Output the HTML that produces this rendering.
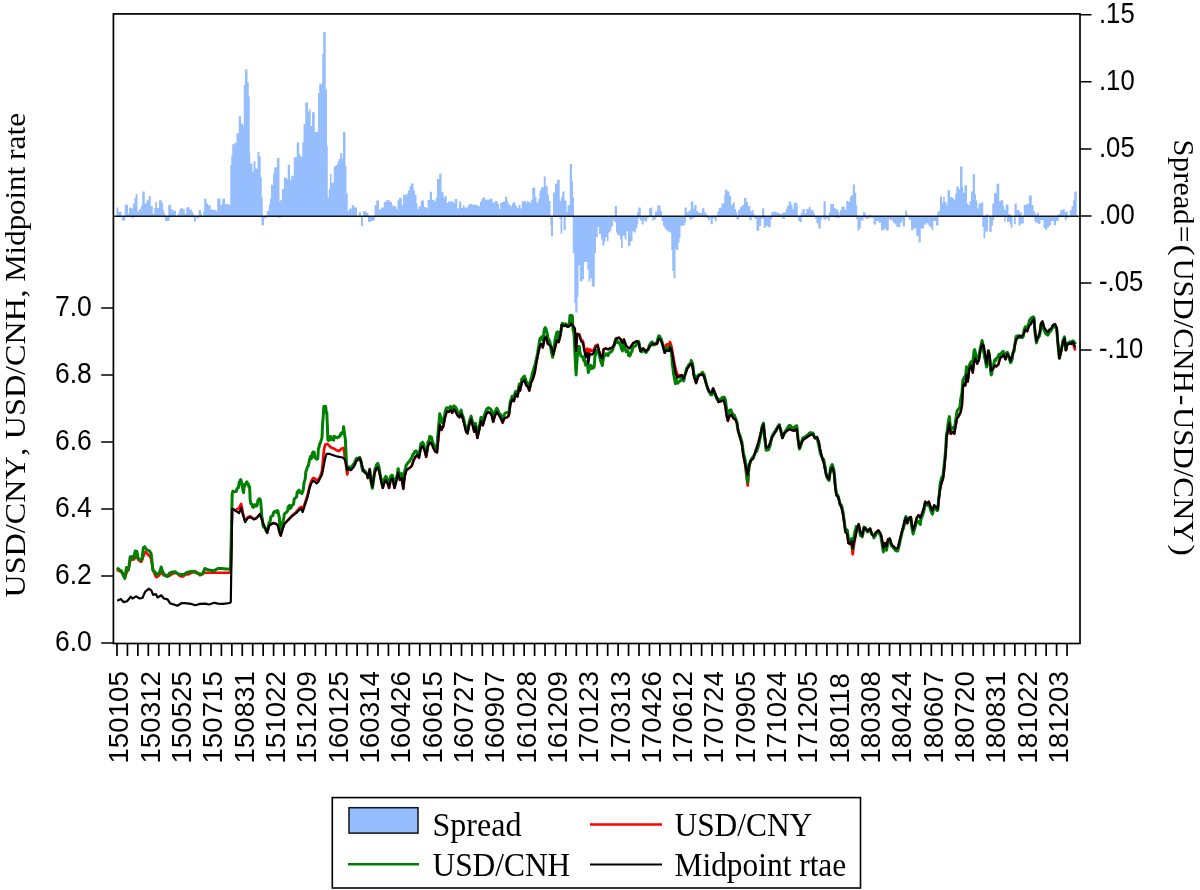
<!DOCTYPE html>
<html><head><meta charset="utf-8"><title>USD/CNY, USD/CNH, Midpoint rate</title>
<style>html,body{margin:0;padding:0;background:#fff}svg{display:block}</style></head>
<body>
<svg width="1200" height="890" viewBox="0 0 1200 890">
<rect width="1200" height="890" fill="#fff"/>
<path d="M116.50,216.2V207.4H118.25V211.8H121.50V216.2ZM124.75,216.2V204.7H128.00V213.4H129.00V207.4H131.25V208.5H133.00V203.6H134.50V198.1H135.50V194.3H137.50V211.2H139.00V209.0H141.00V205.8H142.25V191.6H144.75V203.6H146.50V200.3H148.75V196.0H150.75V206.3H152.75V213.4H154.25V207.9H155.25V202.0H157.00V207.9H159.00V200.3H161.75V203.0H163.00V210.1H164.25V213.4H165.25V216.2ZM168.25,216.2V204.9H171.00V209.6H173.25V210.7H176.00V216.2ZM177.50,216.2V213.4H179.25V209.6H180.75V207.9H182.50V209.0H184.75V213.4H186.25V207.9H187.25V206.9H189.50V209.6H191.75V211.8H193.25V213.9H194.00V216.2ZM198.75,216.2V210.1H201.00V213.4H202.00V216.2ZM203.25,216.2V211.2H204.25V198.7H206.50V203.6H208.00V205.2H210.75V209.6H213.50V210.1H216.25V211.2H217.25V198.4H220.50V204.7H222.25V198.7H225.00V204.1H228.00V204.4H230.25V165.1H231.25V155.3H232.25V144.2H234.50V142.8H236.50V133.3H238.75V116.3H241.00V123.7H243.00V125.4H243.75V84.9H245.00V69.5H247.50V82.2H248.75V96.4H249.75V153.1H250.25V163.5H252.50V171.7H253.50V161.3H255.50V168.4H257.50V152.0H259.50V156.4H260.75V176.9H261.75V197.3H262.75V216.2ZM266.75,216.2V210.9H268.75V204.4H270.00V198.4H271.00V184.7H273.00V173.8H274.25V167.3H277.00V158.0H279.50V202.2H280.25V200.0H282.00V189.1H284.00V177.4H286.25V178.7H287.75V164.8H290.00V180.4H291.25V175.8H293.75V157.3H296.75V142.5H299.25V154.2H300.50V156.4H302.25V142.2H303.50V123.9H305.25V102.6H308.00V111.6H309.25V109.1H310.75V125.9H312.00V112.2H314.75V131.9H318.00V93.1H319.25V83.8H322.25V53.9H323.25V32.1H325.75V89.3H327.00V146.1H327.75V197.8H328.75V189.1H330.00V173.8H331.50V182.8H333.75V166.2H336.00V165.1H337.50V161.9H338.50V159.1H340.25V153.1H342.25V158.6H343.00V131.9H345.50V166.2H346.50V193.5H347.75V210.9H349.00V208.7H350.00V208.5H351.75V205.2H354.25V207.4H357.00V216.2ZM358.75,216.2V212.3H361.00V216.2ZM363.00,216.2V211.2H366.25V212.8H368.50V216.2ZM374.50,216.2V205.2H376.25V200.5H379.00V209.6H381.00V207.4H383.75V202.0H386.00V200.3H389.75V202.0H392.00V205.2H393.50V206.3H396.25V209.6H397.50V200.3H399.00V198.1H401.75V204.7H403.00V195.1H405.50V194.3H407.75V190.5H409.50V186.2H411.00V183.4H413.50V190.5H415.00V194.9H416.50V203.6H417.50V209.0H418.75V206.3H420.75V200.5H424.00V206.9H426.25V208.5H427.50V200.1H429.75V191.8H432.00V199.8H434.50V201.4H435.75V197.6H437.00V179.1H439.25V173.6H441.50V191.8H443.50V197.6H444.75V196.0H446.75V203.0H448.00V201.4H450.75V201.2H453.50V203.0H454.75V199.0H457.25V208.5H459.00V201.6H461.25V207.9H462.75V205.2H464.50V207.4H467.75V205.8H469.25V204.1H472.50V204.7H477.75V206.3H480.00V202.0H481.25V199.0H482.75V197.3H485.00V199.8H487.00V199.4H490.25V198.4H492.50V202.5H494.50V201.2H497.75V204.1H499.00V209.0H500.25V203.0H501.75V202.0H503.50V201.2H505.00V196.8H507.25V201.4H508.50V204.5H510.50V206.3H512.00V203.6H513.25V202.3H515.50V205.8H517.00V207.9H518.50V204.9H520.50V208.5H521.75V201.4H523.50V200.9H525.75V202.5H527.00V201.2H529.00V202.5H531.00V199.8H532.25V187.8H535.25V197.0H536.50V202.5H538.25V198.7H539.50V190.5H541.00V187.2H543.75V176.6H545.75V186.2H547.75V194.7H549.00V200.9H550.50V216.2ZM553.00,216.2V192.5H555.00V183.8H557.00V179.8H559.75V200.9H561.00V197.6H562.25V191.4H564.50V200.5H566.50V212.3H567.50V205.2H569.75V164.1H572.00V181.2H573.00V197.6H574.00V216.2ZM614.75,216.2V206.1H617.00V216.2ZM637.00,216.2V212.6H638.25V207.5H640.75V216.2ZM649.00,216.2V208.2H650.75V207.5H652.25V216.2ZM655.00,216.2V211.5H657.25V205.5H660.50V211.0H662.00V216.2ZM684.50,216.2V207.5H686.75V212.6H688.50V210.4H690.75V201.7H693.25V208.8H694.25V205.0H696.50V211.0H698.50V213.1H702.00V208.2H704.50V212.6H706.25V214.4H708.00V216.2ZM717.25,216.2V211.5H718.75V207.7H721.50V203.5H724.25V194.6H725.00V189.6H727.25V191.6H729.50V196.0H731.00V204.7H732.75V202.5H734.75V209.0H736.00V212.3H737.00V216.2ZM737.75,216.2V210.3H739.75V207.1H742.00V204.9H744.00V197.9H746.50V202.3H748.00V206.3H750.50V211.2H751.75V210.1H753.50V213.4H754.50V216.2ZM762.00,216.2V208.2H764.25V216.2ZM771.25,216.2V212.3H773.50V211.8H776.75V212.8H779.50V213.9H781.75V212.8H784.50V212.1H786.00V209.0H787.00V205.8H788.75V201.4H791.25V204.7H792.50V209.0H793.75V202.7H797.00V204.7H797.75V216.2ZM800.75,216.2V212.8H802.25V209.0H804.75V213.4H806.25V209.0H808.75V207.1H810.75V210.3H813.75V213.4H815.00V216.2ZM823.50,216.2V201.2H825.75V216.2ZM829.00,216.2V212.3H830.25V204.1H834.00V207.9H835.50V209.3H838.25V212.3H839.50V216.2ZM840.00,216.2V210.1H841.50V206.6H844.75V210.1H846.25V200.9H848.75V202.0H850.00V196.5H851.25V195.1H852.75V184.5H855.00V192.7H856.25V205.2H857.25V216.2ZM863.00,216.2V212.1H865.25V214.5H866.25V216.2ZM869.00,216.2V215.0H871.25V216.2ZM905.00,216.2V210.7H907.00V214.5H908.25V216.2ZM937.25,216.2V212.3H938.50V210.7H940.00V196.5H942.00V202.5H943.25V196.5H944.75V202.0H946.50V204.7H947.50V190.3H950.00V197.0H952.00V197.9H954.00V199.8H955.25V193.8H956.25V186.4H958.75V188.9H960.00V166.5H962.50V187.2H963.25V192.7H964.50V185.3H967.00V203.6H968.25V205.2H969.50V201.2H971.00V191.4H972.75V174.2H975.00V194.3H976.00V200.3H977.25V208.5H978.50V203.6H981.25V202.3H983.25V216.2ZM986.25,216.2V214.3H988.50V216.2ZM992.25,216.2V203.6H994.00V193.2H996.50V183.8H999.25V201.4H1000.50V200.3H1003.25V205.8H1004.25V210.1H1005.75V204.5H1008.50V214.3H1010.75V216.2ZM1014.50,216.2V203.4H1016.75V209.9H1019.50V212.5H1021.75V216.2ZM1023.75,216.2V204.9H1026.50V203.8H1029.00V195.4H1031.75V204.9H1033.50V210.7H1034.75V213.4H1036.25V216.2ZM1037.00,216.2V212.8H1039.00V216.2ZM1057.50,216.2V214.3H1060.25V210.3H1062.50V209.3H1064.75V212.3H1065.75V211.4H1067.75V216.2ZM1069.75,216.2V210.3H1071.50V206.3H1073.00V200.3H1074.25V191.6H1076.75V216.2ZM122.00,216.2V220.5H125.25V216.2ZM131.75,216.2V218.3H133.50V216.2ZM165.00,216.2V221.0H169.50V216.2ZM176.00,216.2V217.2H177.50V216.2ZM194.00,216.2V221.6H196.00V216.2ZM196.75,216.2V218.3H198.75V216.2ZM202.00,216.2V217.2H203.75V216.2ZM261.50,216.2V225.3H264.00V218.3H266.50V216.2ZM278.50,216.2V217.8H280.75V216.2ZM357.00,216.2V217.2H358.75V216.2ZM361.00,216.2V225.9H363.00V216.2ZM368.00,216.2V222.1H370.25V221.0H373.00V220.5H374.75V216.2ZM550.25,216.2V225.4H551.00V236.3H553.00V216.2ZM559.50,216.2V218.8H560.50V233.6H562.25V216.2ZM563.50,216.2V230.3H565.75V216.2ZM572.75,216.2V253.1H574.25V302.7H575.25V312.5H577.50V296.7H578.50V265.1H579.75V281.3H582.50V279.3H584.00V261.9H587.25V269.5H588.50V281.5H590.25V278.2H591.75V286.4H594.75V253.1H596.00V237.3H597.75V227.0H599.00V234.1H601.00V239.5H602.25V245.5H604.25V241.7H605.50V237.3H607.00V241.2H608.50V232.4H610.00V231.3H611.25V226.4H613.00V220.4H614.25V222.1H616.00V232.4H617.25V235.2H620.00V239.5H621.00V247.7H622.75V235.7H624.75V239.5H626.50V231.3H628.00V246.1H630.50V241.2H632.50V231.3H633.75V232.4H635.75V228.6H637.25V224.3H638.25V218.3H639.75V220.4H641.75V224.6H643.75V220.4H645.00V221.5H647.25V217.7H649.00V216.2ZM652.25,216.2V220.7H653.75V219.6H656.25V216.2ZM661.50,216.2V221.0H663.00V225.9H664.50V228.6H665.75V230.3H667.50V231.6H669.50V232.4H671.25V249.9H672.25V271.1H673.50V278.2H675.50V248.8H676.25V249.9H678.25V242.8H679.50V237.9H680.50V225.9H682.25V225.4H684.75V222.6H686.00V216.2ZM689.25,216.2V219.4H692.50V218.3H694.25V216.2ZM695.00,216.2V216.3H696.00V216.2ZM706.25,216.2V218.0H708.00V220.2H709.50V218.0H710.50V224.3H712.75V218.6H715.00V221.3H716.75V216.2ZM736.50,216.2V219.4H739.00V216.2ZM749.25,216.2V220.2H751.75V216.2ZM754.25,216.2V218.8H756.50V230.8H759.25V225.9H761.00V218.8H763.75V228.1H765.75V225.9H768.00V227.3H770.75V219.4H772.00V216.2ZM782.25,216.2V218.8H785.00V216.2ZM798.25,216.2V221.0H799.75V222.3H801.75V216.2ZM815.00,216.2V218.8H816.50V223.2H818.25V228.4H820.75V219.9H821.75V216.2ZM823.00,216.2V218.8H824.75V219.9H826.25V218.3H828.00V220.8H829.75V216.2ZM835.00,216.2V217.8H837.25V216.2ZM837.75,216.2V217.8H840.50V216.2ZM856.25,216.2V219.4H857.50V230.8H859.25V228.6H860.75V220.5H863.50V217.2H865.25V218.8H869.00V217.8H873.50V224.5H876.00V221.0H878.50V222.7H881.00V230.3H884.25V228.6H886.00V230.6H888.75V219.4H890.75V220.5H893.00V222.7H894.75V224.3H896.25V226.7H898.50V227.3H900.25V222.7H902.00V219.9H902.75V226.5H905.00V216.2ZM908.75,216.2V219.7H911.00V230.3H913.25V228.4H916.25V235.7H918.50V242.6H920.75V228.6H924.00V224.8H926.25V223.2H928.50V225.9H930.50V228.1H931.75V230.3H933.25V221.0H936.00V225.4H938.50V216.2ZM982.25,216.2V227.0H983.50V238.2H985.25V231.4H988.00V216.2ZM989.25,216.2V232.1H991.75V225.4H993.00V219.9H994.25V216.2ZM1004.25,216.2V221.6H1005.75V216.2ZM1007.00,216.2V221.9H1009.75V224.3H1010.75V227.8H1012.50V216.2ZM1014.00,216.2V224.3H1015.75V216.2ZM1018.50,216.2V225.4H1020.50V223.4H1023.75V216.2ZM1034.25,216.2V221.6H1035.75V222.7H1038.00V224.1H1040.50V219.9H1043.50V228.1H1045.00V229.7H1047.25V227.6H1049.00V225.4H1051.00V221.0H1053.75V225.2H1056.00V221.0H1058.75V217.2H1061.50V216.2ZM1064.75,216.2V220.2H1066.50V217.8H1069.50V216.2Z" fill="#96bdfd"/>
<line x1="113.4" y1="216.2" x2="1080.0" y2="216.2" stroke="#10141c" stroke-width="1.6"/>
<polyline points="117.0,569.8 117.5,570.3 118.1,570.4 118.6,570.7 119.1,570.9 119.7,571.1 120.2,571.4 120.8,571.8 121.4,572.1 122.0,572.6 122.5,573.2 123.1,574.1 123.7,575.6 124.2,576.6 124.8,576.7 125.4,575.7 125.9,574.7 126.5,573.0 127.0,571.8 127.5,571.1 128.0,570.5 128.5,569.0 129.1,566.5 129.6,563.9 130.2,561.5 130.8,559.6 131.4,558.5 132.0,558.8 132.5,559.4 133.0,559.5 133.6,559.6 134.1,559.1 134.7,558.4 135.2,557.4 135.8,556.9 136.4,557.2 136.9,557.8 137.4,558.4 137.9,559.0 138.4,559.8 138.9,560.2 139.4,560.7 140.0,561.2 140.5,561.6 141.0,561.8 141.5,561.5 142.0,560.0 142.6,558.4 143.3,556.6 144.0,554.3 144.7,552.5 145.2,552.1 145.7,552.2 146.2,552.4 146.7,553.1 147.2,553.7 147.8,554.4 148.3,554.8 148.8,555.3 149.4,556.0 149.9,556.4 150.5,557.3 151.1,559.1 151.6,561.9 152.1,564.7 152.8,567.8 153.3,570.4 153.8,572.2 154.3,573.3 154.8,574.4 155.3,575.6 155.8,576.6 156.3,577.2 156.8,577.2 157.3,576.9 157.9,576.3 158.4,575.9 159.0,575.5 159.5,574.8 160.1,573.9 160.6,573.4 161.2,572.9 161.7,573.2 162.3,573.5 162.9,574.4 163.4,575.0 163.9,575.4 164.4,575.2 164.9,575.2 165.4,575.1 166.0,575.1 166.5,575.0 167.0,575.0 167.6,575.4 168.1,575.5 168.6,575.6 169.1,575.6 169.6,575.8 170.1,575.4 170.6,575.0 171.1,574.6 171.6,574.3 172.2,573.8 172.7,573.7 173.3,573.5 173.9,573.3 174.4,573.3 175.0,573.0 175.5,572.9 176.1,572.9 176.6,573.1 177.2,573.4 177.7,573.9 178.2,574.5 178.8,575.0 179.3,575.4 179.8,575.8 180.4,576.1 180.9,576.3 181.5,576.4 182.1,576.5 182.6,576.5 183.2,576.4 183.8,576.0 184.3,575.6 184.9,575.1 185.4,574.7 186.0,574.4 186.6,574.4 187.1,574.4 187.7,574.5 188.2,574.4 188.7,574.1 189.3,573.9 189.8,573.6 190.3,573.4 190.9,573.1 191.4,572.9 191.9,572.8 192.5,572.6 193.0,572.0 193.5,571.7 194.1,571.4 194.6,571.1 195.2,571.3 195.7,571.7 196.3,572.0 196.8,572.4 197.3,572.7 197.8,573.2 198.3,573.7 198.9,574.3 199.4,574.8 199.9,575.3 200.4,575.2 201.0,574.9 201.5,574.6 202.0,573.9 202.6,573.3 203.2,573.3 203.8,573.1 204.3,573.0 204.9,572.8 205.4,572.8 205.9,572.8 206.4,572.8 207.0,572.8 207.5,572.8 208.0,572.8 208.5,572.8 209.1,572.8 209.6,572.8 210.1,572.8 210.7,572.8 211.2,572.8 211.7,572.8 212.2,572.8 212.7,572.8 213.2,572.8 213.8,572.8 214.3,572.8 214.8,572.8 215.3,572.8 215.8,572.8 216.3,572.8 216.8,572.8 217.4,572.8 217.9,572.8 218.4,572.8 218.9,572.8 219.4,572.8 219.9,572.8 220.4,572.8 220.9,572.8 221.5,572.8 222.0,572.8 222.5,572.8 223.0,572.8 223.5,572.8 224.0,572.8 224.5,572.8 225.1,572.8 225.6,572.8 226.2,572.8 226.7,572.8 227.3,572.8 227.9,572.8 228.4,572.8 229.0,572.8 229.6,572.8 230.1,572.8 230.6,572.8 232.2,508.6 233.6,509.5 234.9,510.0 236.3,509.9 237.6,508.9 239.1,508.1 240.2,505.4 241.2,503.9 243.0,513.3 244.1,517.5 245.2,521.2 246.4,519.4 247.5,517.5 248.9,516.8 250.2,516.2 251.4,517.1 252.6,518.0 253.8,518.9 255.2,518.5 256.5,517.9 257.9,516.4 259.2,514.9 260.0,514.0 261.8,519.4 263.6,524.8 265.4,528.4 267.2,532.9 269.0,525.7 270.3,524.8 271.7,523.9 273.5,523.0 274.8,523.5 276.2,523.9 278.0,525.7 279.4,532.0 280.7,535.6 282.5,529.3 284.3,523.9 285.6,522.5 287.0,521.1 288.3,519.7 289.7,518.2 291.0,516.8 292.4,515.3 293.6,514.2 294.8,513.2 296.0,512.1 297.2,510.7 298.4,509.3 299.6,508.0 301.3,506.8 302.6,510.3 304.0,505.8 305.8,500.4 307.6,495.0 309.4,486.9 311.2,481.3 313.0,478.0 314.8,478.4 316.6,480.3 318.4,479.4 320.2,476.3 322.0,470.9 323.8,451.1 325.1,444.8 327.4,443.9 331.0,447.5 333.7,448.4 336.4,450.2 339.1,451.1 341.8,448.4 343.6,447.9 345.4,461.0 347.2,474.5 348.4,469.1 349.0,468.2 350.8,470.0 352.6,468.2 354.4,465.5 356.2,461.0 358.0,459.2 359.8,458.3 361.6,463.7 363.4,470.9 365.2,472.7 367.0,474.5 367.9,478.1 369.7,469.1 370.9,479.9 372.4,487.1 374.2,474.5 376.0,469.1 377.8,467.3 379.6,472.7 381.3,481.7 382.8,488.0 384.0,483.5 385.8,479.9 387.6,483.5 389.1,488.0 390.7,479.9 392.5,478.1 394.5,488.0 396.1,481.7 398.1,472.7 399.9,479.9 401.7,478.1 403.3,488.9 404.7,476.3 406.5,470.0 407.9,469.1 409.2,468.2 410.0,467.6 411.8,465.8 413.6,460.4 415.4,456.9 417.2,455.1 419.0,457.8 420.8,447.9 422.6,446.1 424.4,449.7 426.2,456.9 428.0,446.1 429.8,442.5 431.6,443.4 433.4,447.9 435.2,451.5 437.0,452.4 438.2,440.7 439.7,424.5 441.5,429.9 443.3,426.3 445.1,417.3 446.9,411.0 448.7,411.9 450.4,410.1 452.2,412.8 454.0,409.2 455.8,411.9 457.6,415.5 459.4,417.3 461.2,413.7 463.0,419.1 464.8,426.3 466.1,431.7 467.5,433.5 469.3,424.5 471.1,419.1 472.9,426.3 474.2,431.7 475.6,426.3 477.4,438.0 479.2,429.9 481.0,420.9 482.8,425.4 484.6,419.1 486.4,413.7 488.2,411.9 490.0,412.8 491.8,415.5 493.2,421.8 495.0,415.5 496.8,411.9 498.6,414.6 500.4,417.3 501.5,420.0 502.6,422.7 504.4,418.2 505.7,417.8 507.1,417.3 508.9,415.5 510.3,404.7 512.1,399.3 513.9,401.1 515.7,393.9 517.5,396.6 519.3,386.7 520.0,390.7 521.8,382.6 523.1,381.2 524.5,379.9 526.3,385.3 528.1,387.1 529.3,390.7 531.1,382.6 532.9,379.0 534.7,372.7 536.5,361.9 538.3,352.9 540.1,344.8 541.6,343.9 542.8,347.5 544.6,338.5 546.1,336.7 547.9,343.9 549.7,344.8 551.5,347.5 553.3,354.7 555.1,347.5 556.9,340.3 558.7,342.1 560.4,334.9 561.7,325.1 562.9,325.5 564.0,326.0 565.8,325.1 567.6,326.9 569.4,326.0 571.2,323.3 573.0,325.9 574.8,328.6 576.1,351.0 577.2,333.8 578.2,334.0 579.3,334.3 581.1,339.9 582.9,340.9 584.4,348.2 585.6,353.8 587.4,348.6 588.3,359.2 589.8,349.4 590.8,350.1 591.9,350.9 593.7,350.0 595.5,345.6 596.6,345.2 597.7,344.7 599.1,350.5 600.9,357.2 602.3,358.2 603.6,349.3 604.8,348.8 605.9,348.4 607.0,348.9 608.1,349.3 609.9,348.4 611.2,348.0 612.6,347.5 614.4,343.9 616.2,338.5 617.5,338.1 618.9,337.6 620.7,339.4 622.5,343.0 623.9,339.4 625.0,342.6 626.1,345.7 627.9,347.5 629.7,348.4 631.5,345.7 633.3,343.0 635.1,342.1 636.9,341.2 638.7,343.0 640.4,351.1 641.8,349.8 643.1,348.4 644.5,349.8 645.8,351.1 646.9,350.2 648.0,349.3 649.2,347.5 650.3,345.7 652.1,343.9 653.5,343.9 654.8,343.9 655.9,343.9 657.0,343.9 658.8,338.5 660.0,339.3 661.1,339.9 662.9,344.2 664.7,349.3 666.5,344.5 667.9,344.2 669.2,345.1 670.0,341.9 671.8,347.4 673.6,358.5 675.4,368.2 677.2,374.3 678.5,375.1 679.9,375.3 681.7,375.0 683.5,378.6 685.3,374.2 687.1,368.8 688.9,366.1 690.0,364.7 691.2,363.4 692.5,366.1 693.9,376.0 695.0,379.6 696.1,383.1 697.9,376.9 699.7,375.1 701.0,374.6 702.4,374.2 704.2,376.9 706.0,383.1 707.8,388.5 709.6,392.1 710.6,392.6 711.7,393.0 713.1,388.5 714.9,393.0 716.7,397.5 718.5,402.0 719.9,401.6 721.2,401.1 722.6,400.7 723.9,400.2 725.4,406.5 726.6,415.5 727.9,420.9 729.7,415.5 731.5,414.6 733.3,418.2 735.1,419.1 736.9,422.7 738.3,431.7 740.1,438.0 741.9,444.3 743.3,455.1 745.1,464.4 746.4,475.9 747.7,485.7 749.1,466.8 750.9,460.4 752.0,459.6 753.1,458.7 754.9,453.3 756.7,447.9 758.4,442.5 760.2,435.3 762.0,428.1 763.5,424.5 764.7,435.3 766.2,447.9 767.3,447.4 768.5,447.0 770.3,442.5 772.1,437.1 773.2,435.3 774.3,433.5 776.1,430.8 777.9,427.2 779.3,425.4 780.6,429.9 782.4,438.0 784.2,433.5 785.5,432.1 786.9,430.8 788.2,429.9 789.6,429.0 791.3,429.9 792.7,430.3 794.0,430.8 795.4,429.9 796.7,429.0 798.0,438.9 799.4,447.9 801.2,443.4 803.0,439.8 804.4,438.9 805.7,438.0 807.1,437.1 808.4,436.2 809.8,435.3 811.1,434.4 812.9,434.4 814.7,438.0 815.9,437.5 817.1,437.1 818.9,442.5 820.0,448.7 821.8,456.7 823.6,462.1 825.4,471.1 827.2,477.4 829.0,479.2 830.4,471.1 832.2,467.5 834.0,472.9 835.3,487.3 836.5,495.4 838.3,497.2 839.8,503.5 841.6,508.0 843.0,514.3 844.3,523.3 845.5,532.2 847.3,534.0 848.4,543.0 850.2,544.2 851.5,544.0 852.7,554.4 854.2,543.3 855.6,535.9 856.9,528.7 858.7,524.2 860.4,532.2 862.2,535.8 864.0,527.8 865.8,528.7 867.6,531.3 868.8,530.0 870.0,528.7 871.8,534.0 872.9,534.9 873.9,535.8 875.0,534.0 876.1,532.2 877.3,531.3 878.4,530.4 879.6,532.2 880.8,534.0 882.0,539.4 883.3,548.4 885.1,543.0 886.5,546.6 888.0,539.4 889.8,538.5 891.6,544.8 892.6,545.7 893.7,546.6 895.5,548.4 896.6,548.4 897.7,548.4 899.1,543.0 900.9,535.8 902.7,528.7 904.5,521.5 905.9,517.9 907.2,523.3 909.0,517.9 910.8,517.0 912.0,525.1 913.1,530.4 914.9,525.1 916.7,517.9 918.5,515.2 920.3,517.9 922.1,513.4 923.9,508.0 925.2,501.7 927.0,503.5 928.8,501.7 930.6,507.1 932.4,510.7 934.2,505.3 936.0,507.1 937.8,508.9 938.7,499.9 940.1,489.1 941.3,483.7 943.1,478.3 944.4,467.5 945.8,451.3 946.5,437.4 948.0,430.2 949.4,423.0 950.7,433.8 952.5,432.0 954.3,433.8 955.5,426.6 957.0,418.5 958.8,415.8 960.6,412.2 962.0,405.1 962.9,387.1 964.2,383.5 965.4,385.3 966.5,374.5 967.8,381.7 969.2,369.1 971.0,365.5 972.8,372.7 974.0,361.9 975.3,358.3 977.1,363.7 978.9,360.1 980.3,351.1 982.1,343.9 983.6,345.7 984.8,352.9 986.6,363.7 988.4,351.1 989.7,356.5 991.1,370.9 992.9,369.1 994.7,365.5 996.5,366.4 998.3,364.6 1000.1,358.3 1001.9,356.5 1003.7,354.7 1005.5,359.2 1007.3,353.8 1009.1,356.5 1010.5,361.0 1012.3,355.6 1014.1,349.3 1015.9,340.3 1017.7,337.6 1018.8,336.7 1019.9,335.8 1021.7,336.7 1023.5,334.0 1025.3,329.6 1027.1,331.3 1028.9,326.0 1030.7,324.2 1032.5,320.6 1033.9,318.8 1035.2,333.1 1036.4,341.2 1037.9,337.6 1039.7,333.1 1041.1,323.3 1042.4,321.5 1044.2,327.8 1046.0,330.4 1047.8,332.2 1049.6,329.6 1051.3,328.7 1053.1,325.1 1054.9,324.2 1056.7,327.8 1058.0,343.9 1059.4,358.3 1061.2,351.1 1063.0,342.1 1064.5,338.5 1065.9,350.2 1067.5,343.9 1069.3,343.0 1071.1,344.0 1072.9,343.3 1074.7,348.7 1075.3,350.5" fill="none" stroke="#ff0000" stroke-width="2.6" stroke-linejoin="round"/>
<polyline points="117.0,567.6 117.5,568.1 118.1,568.6 118.6,569.1 119.1,569.6 119.7,570.0 120.2,570.3 120.8,570.7 121.4,571.0 122.0,572.3 122.5,573.7 123.1,575.0 123.7,576.2 124.2,577.3 124.8,578.4 125.4,574.8 125.9,571.2 126.5,567.6 127.0,568.1 127.5,568.6 128.0,569.1 128.5,569.6 129.1,565.4 129.6,561.1 130.2,556.8 130.8,556.8 131.4,556.7 132.0,556.6 132.5,556.5 133.0,557.7 133.6,558.9 134.1,556.3 134.7,553.7 135.2,551.1 135.8,551.2 136.4,551.3 136.9,551.5 137.4,554.5 137.9,557.5 138.4,558.1 138.9,558.7 139.4,559.3 140.0,559.9 140.5,559.8 141.0,559.7 141.5,559.6 142.0,559.5 142.6,553.8 143.3,548.1 144.0,547.4 144.7,546.7 145.2,547.5 145.7,548.3 146.2,549.0 146.7,549.8 147.2,550.0 147.8,550.2 148.3,550.4 148.8,550.6 149.4,550.8 149.9,551.7 150.5,552.6 151.1,553.5 151.6,557.9 152.1,562.2 152.8,570.3 153.3,570.7 153.8,571.0 154.3,571.3 154.8,571.7 155.3,572.5 155.8,573.4 156.3,574.2 156.8,575.0 157.3,574.5 157.9,574.0 158.4,573.4 159.0,572.9 159.5,572.3 160.1,570.5 160.6,568.8 161.2,567.0 161.7,568.8 162.3,570.5 162.9,572.3 163.4,573.1 163.9,573.9 164.4,574.6 164.9,575.4 165.4,575.6 166.0,575.9 166.5,576.2 167.0,576.5 167.6,576.7 168.1,575.8 168.6,574.9 169.1,573.9 169.6,573.0 170.1,572.9 170.6,572.7 171.1,572.5 171.6,572.3 172.2,572.2 172.7,572.1 173.3,572.0 173.9,571.9 174.4,571.8 175.0,571.7 175.5,572.1 176.1,572.5 176.6,572.9 177.2,573.3 177.7,573.7 178.2,573.8 178.8,574.0 179.3,574.1 179.8,574.2 180.4,574.4 180.9,574.4 181.5,574.5 182.1,574.5 182.6,574.6 183.2,574.6 183.8,574.7 184.3,574.3 184.9,573.9 185.4,573.5 186.0,573.1 186.6,572.7 187.1,572.3 187.7,572.2 188.2,572.1 188.7,571.9 189.3,571.8 189.8,571.7 190.3,571.6 190.9,571.6 191.4,571.5 191.9,571.4 192.5,571.4 193.0,571.3 193.5,571.6 194.1,571.8 194.6,572.1 195.2,572.3 195.7,572.6 196.3,572.8 196.8,573.0 197.3,573.1 197.8,573.3 198.3,573.4 198.9,573.6 199.4,573.8 199.9,573.9 200.4,573.9 201.0,573.9 201.5,573.9 202.0,573.9 202.6,573.9 203.2,572.6 203.8,571.2 204.3,569.9 204.9,568.5 205.4,568.7 205.9,568.9 206.4,569.1 207.0,569.4 207.5,569.6 208.0,569.8 208.5,569.9 209.1,570.0 209.6,570.1 210.1,570.2 210.7,570.3 211.2,570.4 211.7,570.4 212.2,570.5 212.7,570.5 213.2,570.6 213.8,570.6 214.3,570.7 214.8,570.4 215.3,570.1 215.8,569.7 216.3,569.4 216.8,569.1 217.4,568.8 217.9,568.5 218.4,568.5 218.9,568.5 219.4,568.5 219.9,568.5 220.4,568.5 220.9,568.5 221.5,568.5 222.0,568.6 222.5,568.6 223.0,568.7 223.5,568.7 224.0,568.8 224.5,568.8 225.1,568.9 225.6,568.9 226.2,569.0 226.7,569.0 227.3,569.1 227.9,569.1 228.4,569.1 229.0,569.2 229.6,569.2 230.1,569.1 230.6,568.9 232.2,493.4 232.9,491.1 233.6,491.5 234.3,491.8 234.9,491.7 235.6,491.6 236.3,491.5 237.0,488.7 237.6,488.2 238.4,487.7 239.1,483.1 239.6,481.8 240.2,480.4 240.7,479.7 241.2,480.8 241.8,483.9 242.4,487.0 243.0,490.6 243.6,492.7 244.1,484.6 244.7,486.5 245.2,484.5 245.8,483.6 246.4,482.7 246.9,481.8 247.5,484.0 248.2,483.7 248.9,486.9 249.6,486.6 250.2,500.4 250.8,503.5 251.4,503.9 252.0,504.4 252.6,506.9 253.2,507.3 253.8,505.2 254.5,505.0 255.2,504.7 255.8,506.2 256.5,506.0 257.2,505.2 257.9,500.4 258.5,499.6 259.2,498.8 260.0,499.0 260.6,500.8 261.2,507.8 261.8,517.0 262.4,518.8 263.0,525.3 263.6,527.1 264.2,526.5 264.8,527.7 265.4,528.9 266.0,530.4 266.6,531.4 267.2,531.6 267.8,529.2 268.4,526.8 269.0,522.8 269.7,522.3 270.3,520.4 271.0,516.5 271.7,516.1 272.3,515.8 272.9,515.5 273.5,512.4 274.2,512.7 274.8,511.3 275.5,511.5 276.2,511.7 276.8,512.3 277.4,510.6 278.0,511.2 278.7,514.7 279.4,517.9 280.0,530.7 280.7,531.9 281.3,529.4 281.9,527.3 282.5,522.5 283.1,520.7 283.7,518.9 284.3,514.2 284.9,513.5 285.6,512.8 286.3,512.4 287.0,511.7 287.6,511.0 288.3,506.8 289.0,506.1 289.7,505.4 290.3,508.5 291.0,507.8 291.7,505.9 292.4,505.2 293.0,504.6 293.6,504.1 294.2,499.0 294.8,498.4 295.4,497.9 296.0,497.4 296.6,496.7 297.2,492.3 297.8,491.6 298.4,490.9 299.0,490.2 299.6,492.5 300.1,492.1 300.7,492.3 301.3,491.9 302.0,493.6 302.6,491.8 303.3,489.6 304.0,482.7 304.6,480.9 305.2,479.1 305.8,472.0 306.4,470.2 307.0,468.4 307.6,466.6 308.2,466.2 308.8,463.5 309.4,460.2 310.0,458.3 310.6,456.4 311.2,458.7 311.8,457.6 312.4,453.1 313.0,452.0 313.6,452.2 314.2,452.3 314.8,457.4 315.4,458.0 316.0,458.6 316.6,459.3 317.2,458.9 317.8,458.6 318.4,448.6 319.0,447.6 319.6,444.2 320.2,443.2 320.8,441.4 321.4,439.6 322.0,437.8 322.6,423.7 323.2,417.1 323.8,406.5 324.4,406.5 325.1,406.5 325.7,406.5 326.2,412.7 326.8,412.4 327.4,426.4 327.9,439.9 328.4,440.4 329.0,438.7 329.5,439.2 330.0,439.7 330.5,436.4 331.0,436.9 331.6,439.4 332.1,439.5 332.6,439.7 333.2,439.9 333.7,440.1 334.2,436.3 334.8,436.6 335.3,437.0 335.9,437.4 336.4,437.5 336.9,437.6 337.5,437.8 338.0,437.2 338.6,436.7 339.1,436.9 339.6,436.3 340.2,435.8 340.7,433.7 341.3,433.2 341.8,432.7 342.4,433.8 343.0,433.7 343.6,426.8 344.2,431.2 344.8,435.6 345.4,439.9 346.0,453.0 346.6,464.3 347.2,468.8 347.8,470.5 348.4,467.8 349.0,466.9 349.6,466.9 350.2,467.5 350.8,468.1 351.4,467.5 352.0,466.1 352.6,465.5 353.2,464.6 353.8,463.7 354.4,463.3 355.0,461.8 355.6,460.3 356.2,458.8 356.8,458.2 357.4,460.1 358.0,459.5 358.6,459.2 359.2,457.6 359.8,457.3 360.4,459.1 361.0,460.9 361.6,466.1 362.2,468.5 362.8,470.9 363.4,469.7 364.0,470.3 364.6,470.9 365.2,471.5 365.8,472.0 366.4,473.1 367.0,473.7 367.9,477.3 368.5,475.7 369.1,473.6 369.7,470.6 370.3,475.7 370.9,481.1 371.6,484.7 372.4,488.3 373.0,484.1 373.6,479.8 374.2,475.6 374.8,470.0 375.4,468.2 376.0,466.4 376.6,464.6 377.2,464.0 377.8,463.4 378.4,465.2 379.0,467.0 379.6,471.0 380.1,474.0 380.7,477.0 381.3,479.5 382.1,482.6 382.8,485.8 383.4,483.5 384.0,479.9 384.6,478.7 385.2,477.5 385.8,476.3 386.4,477.1 387.0,478.3 387.6,479.5 388.4,481.8 389.1,484.0 389.6,481.3 390.2,479.0 390.7,476.3 391.3,475.7 391.9,475.1 392.5,475.3 393.2,478.6 393.8,482.2 394.5,485.5 395.0,483.4 395.6,481.3 396.1,479.2 396.7,477.0 397.4,474.0 398.1,468.7 398.7,471.1 399.3,473.0 399.9,475.4 400.5,474.8 401.1,474.2 401.7,473.6 402.2,478.8 402.7,482.4 403.3,483.6 404.0,477.3 404.7,471.0 405.3,468.9 405.9,466.6 406.5,464.5 407.2,464.1 407.9,462.7 408.5,462.2 409.2,461.8 410.0,460.1 410.6,459.5 411.2,458.2 411.8,457.6 412.4,455.9 413.0,454.1 413.6,454.0 414.2,452.8 414.8,451.6 415.4,451.5 416.0,450.9 416.6,452.5 417.2,451.9 417.8,454.2 418.4,455.1 419.0,455.3 419.6,452.0 420.2,448.7 420.8,443.9 421.4,443.3 422.0,442.8 422.6,442.2 423.2,443.3 423.8,444.5 424.4,447.3 425.0,449.7 425.6,452.1 426.2,454.5 426.8,451.3 427.4,447.7 428.0,442.0 428.6,440.8 429.2,439.6 429.8,436.4 430.4,436.7 431.0,437.0 431.6,437.3 432.2,440.8 432.8,442.3 433.4,443.8 434.0,445.0 434.6,446.6 435.2,447.8 435.8,447.1 436.4,447.4 437.0,447.7 437.6,437.2 438.2,431.4 438.9,423.3 439.7,413.8 440.3,415.6 440.9,417.4 441.5,419.2 442.1,422.6 442.7,421.4 443.3,420.2 443.9,418.6 444.5,415.6 445.1,412.2 445.7,410.1 446.3,408.0 446.9,407.7 447.5,408.0 448.1,407.9 448.7,408.2 449.3,407.6 449.9,407.0 450.4,406.4 451.0,407.3 451.6,408.2 452.2,409.1 452.8,407.9 453.4,406.7 454.0,405.9 454.6,406.8 455.2,406.7 455.8,407.6 456.4,408.8 457.0,410.0 457.6,413.6 458.2,414.2 458.8,414.8 459.4,413.7 460.0,412.5 460.6,411.3 461.2,410.1 461.8,413.4 462.4,415.2 463.0,416.4 463.6,418.8 464.2,421.2 464.8,424.1 465.5,426.8 466.1,429.5 466.8,430.4 467.5,431.3 468.1,427.9 468.7,424.9 469.3,421.5 469.9,419.7 470.5,417.9 471.1,416.1 471.7,418.5 472.3,420.9 472.9,423.4 473.6,426.1 474.2,428.8 474.9,426.1 475.6,423.4 476.2,427.3 476.8,431.2 477.4,435.1 478.0,432.8 478.6,430.1 479.2,427.4 479.8,424.4 480.4,420.3 481.0,417.3 481.6,418.1 482.2,419.6 482.8,420.7 483.4,418.6 484.0,416.5 484.6,414.4 485.2,413.2 485.8,411.4 486.4,409.6 487.0,408.9 487.6,408.3 488.2,407.7 488.8,408.0 489.4,408.3 490.0,408.6 490.6,409.2 491.2,410.1 491.8,411.0 492.5,415.2 493.2,418.4 493.8,416.3 494.4,414.2 495.0,411.8 495.6,410.6 496.2,409.4 496.8,408.2 497.4,409.1 498.0,410.7 498.6,411.6 499.2,413.7 499.8,414.6 500.4,414.0 501.0,415.4 501.5,416.7 502.0,417.8 502.6,419.1 503.2,417.6 503.8,415.9 504.4,414.4 505.1,413.1 505.7,412.9 506.4,412.7 507.1,412.5 507.7,413.0 508.3,412.4 508.9,412.6 509.6,407.2 510.3,401.8 510.9,400.4 511.5,398.7 512.1,396.2 512.7,396.8 513.3,397.0 513.9,397.6 514.5,395.2 515.1,392.8 515.7,391.3 516.3,392.2 516.9,393.1 517.5,394.6 518.1,391.3 518.7,387.2 519.3,383.9 520.0,387.8 520.6,386.1 521.2,383.4 521.8,378.9 522.5,378.2 523.1,377.5 523.8,376.7 524.5,376.1 525.1,377.9 525.7,379.6 526.3,381.9 526.9,382.5 527.5,382.7 528.1,383.3 528.7,385.1 529.3,387.2 529.9,384.6 530.5,381.9 531.1,378.5 531.7,377.3 532.3,373.1 532.9,371.9 533.5,369.8 534.1,367.7 534.7,365.6 535.3,364.3 535.9,360.7 536.5,358.5 537.1,355.5 537.7,352.5 538.3,348.5 538.9,345.8 539.5,341.1 540.1,338.4 540.9,338.0 541.6,336.7 542.2,338.5 542.8,340.3 543.4,337.3 544.0,331.6 544.6,328.6 545.3,327.7 546.1,329.2 546.7,331.6 547.3,334.0 547.9,338.5 548.5,338.8 549.1,340.7 549.7,341.0 550.3,344.2 550.9,348.9 551.5,352.5 552.1,354.9 552.7,357.3 553.3,348.8 553.9,346.4 554.5,344.0 555.1,339.4 555.7,337.0 556.3,334.6 556.9,332.2 557.5,331.8 558.1,332.4 558.7,339.4 559.3,337.0 559.9,336.4 560.4,334.0 561.1,329.9 561.7,325.0 562.3,323.4 562.9,323.6 563.5,323.9 564.0,325.2 564.6,325.5 565.2,325.2 565.8,323.9 566.4,324.5 567.0,326.0 567.6,326.0 568.2,325.7 568.8,325.4 569.4,323.2 570.0,315.5 570.6,315.5 571.2,315.5 571.8,315.5 572.4,316.3 573.0,330.5 573.6,331.4 574.2,336.9 574.8,350.2 575.5,363.8 576.1,375.0 576.6,366.4 577.2,357.9 577.7,354.0 578.2,354.2 578.8,346.4 579.3,346.5 579.9,352.4 580.5,354.3 581.1,356.2 581.7,356.5 582.3,356.8 582.9,356.7 583.6,360.3 584.4,359.6 585.0,362.4 585.6,365.2 586.2,363.5 586.8,361.8 587.4,362.0 588.3,372.6 589.0,370.6 589.8,365.7 590.3,365.2 590.8,365.6 591.4,366.0 591.9,368.5 592.5,368.2 593.1,367.9 593.7,367.6 594.3,366.1 594.9,356.3 595.5,354.8 596.0,350.7 596.6,350.5 597.1,350.3 597.7,350.0 598.4,350.3 599.1,355.0 599.7,357.2 600.3,359.4 600.9,361.6 601.6,363.5 602.3,365.5 603.0,361.1 603.6,356.6 604.2,356.4 604.8,355.2 605.3,355.0 605.9,353.7 606.5,353.9 607.0,355.1 607.6,355.3 608.1,355.6 608.7,353.1 609.3,352.8 609.9,352.5 610.6,352.0 611.2,351.8 611.9,350.3 612.6,350.1 613.2,347.4 613.8,346.2 614.4,345.4 615.0,341.1 615.6,339.3 616.2,340.1 616.9,339.8 617.5,342.8 618.2,342.6 618.9,342.4 619.5,343.0 620.1,344.7 620.7,345.3 621.3,348.5 621.9,349.7 622.5,350.9 623.2,346.1 623.9,344.3 624.4,345.9 625.0,348.4 625.5,350.0 626.1,351.6 626.7,350.1 627.3,350.7 627.9,351.3 628.5,355.3 629.1,355.6 629.7,355.9 630.3,355.0 630.9,352.9 631.5,352.0 632.1,351.1 632.7,347.7 633.3,346.8 633.9,346.8 634.5,346.5 635.1,346.2 635.7,345.9 636.3,344.6 636.9,344.3 637.5,342.9 638.1,343.5 638.7,341.4 639.3,344.1 639.9,347.3 640.4,350.0 641.1,351.5 641.8,351.9 642.5,351.2 643.1,350.5 643.8,350.2 644.5,350.8 645.2,351.8 645.8,352.5 646.4,352.0 646.9,351.6 647.5,350.2 648.0,349.7 648.6,348.8 649.2,345.5 649.8,344.6 650.3,343.7 650.9,342.9 651.5,342.3 652.1,341.8 652.8,345.0 653.5,345.0 654.2,344.8 654.8,344.8 655.4,343.6 655.9,343.6 656.4,342.8 657.0,342.8 657.6,339.4 658.2,337.6 658.8,335.8 659.4,336.2 660.0,336.6 660.5,338.3 661.1,338.6 661.7,341.2 662.3,343.9 662.9,345.4 663.5,348.3 664.1,350.0 664.7,352.5 665.3,350.8 665.9,349.6 666.5,348.0 667.2,347.8 667.9,348.0 668.5,348.5 669.2,349.0 670.0,346.0 670.6,347.8 671.2,349.7 671.8,355.8 672.4,364.8 673.0,368.5 673.6,374.0 674.2,377.2 674.8,380.5 675.4,383.7 676.0,378.4 676.6,380.7 677.2,382.8 677.9,383.1 678.5,381.7 679.2,381.8 679.9,380.8 680.5,380.6 681.1,377.5 681.7,377.4 682.3,378.5 682.9,379.7 683.5,380.9 684.1,379.4 684.7,375.8 685.3,373.6 685.9,371.8 686.5,368.4 687.1,367.9 687.7,367.0 688.3,366.1 688.9,364.6 689.5,364.7 690.0,364.1 690.6,363.4 691.2,360.5 691.8,361.9 692.5,363.2 693.2,367.9 693.9,374.6 694.4,374.9 695.0,376.7 695.5,378.6 696.1,380.3 696.7,379.7 697.3,377.6 697.9,375.5 698.5,374.9 699.1,374.9 699.7,374.3 700.3,374.1 701.0,373.8 701.7,373.6 702.4,372.2 703.0,373.1 703.6,374.0 704.2,374.9 704.8,378.0 705.4,380.1 706.0,382.2 706.6,385.0 707.2,386.8 707.8,388.6 708.4,390.7 709.0,391.9 709.6,392.6 710.1,392.8 710.6,394.6 711.2,394.8 711.7,395.0 712.4,392.8 713.1,389.1 713.7,390.6 714.3,392.1 714.9,393.6 715.5,395.8 716.1,397.3 716.7,398.8 717.3,397.9 717.9,399.4 718.5,400.8 719.2,399.7 719.9,399.4 720.6,399.2 721.2,399.0 721.9,397.7 722.6,397.5 723.3,397.3 723.9,397.1 724.7,398.0 725.4,399.9 726.0,404.4 726.6,408.9 727.3,412.1 727.9,414.7 728.5,413.0 729.1,411.2 729.7,410.4 730.3,410.1 730.9,409.8 731.5,411.7 732.1,412.9 732.7,414.1 733.3,414.8 733.9,415.1 734.5,415.4 735.1,417.3 735.7,418.5 736.3,420.5 736.9,422.5 737.6,428.0 738.3,431.0 738.9,433.1 739.5,434.4 740.1,435.7 740.7,437.8 741.3,439.9 741.9,442.0 742.6,446.8 743.3,452.2 743.9,455.3 744.5,456.7 745.1,459.8 745.8,465.5 746.4,471.3 747.0,477.3 747.7,482.2 748.4,473.8 749.1,464.3 749.7,463.2 750.3,461.1 750.9,460.2 751.4,459.7 752.0,458.0 752.5,457.6 753.1,457.1 753.7,456.2 754.3,455.0 754.9,453.9 755.5,452.1 756.1,450.3 756.7,451.5 757.3,449.7 757.9,447.9 758.4,446.1 759.0,443.7 759.6,440.1 760.2,437.7 760.8,435.3 761.4,431.1 762.0,426.7 762.8,424.9 763.5,423.1 764.1,430.9 764.7,438.3 765.5,444.5 766.2,450.3 766.8,450.1 767.3,449.8 767.9,449.6 768.5,449.8 769.1,448.3 769.7,446.8 770.3,445.3 770.9,441.5 771.5,438.7 772.1,436.1 772.7,435.2 773.2,434.3 773.7,433.3 774.3,432.4 774.9,431.5 775.5,430.6 776.1,429.7 776.7,428.5 777.3,427.6 777.9,426.4 778.6,425.5 779.3,424.6 779.9,427.1 780.6,429.3 781.2,432.0 781.8,434.4 782.4,437.8 783.0,436.3 783.6,434.8 784.2,433.3 784.8,432.4 785.5,431.1 786.2,429.7 786.9,429.0 787.5,427.7 788.2,427.3 788.9,425.7 789.6,425.3 790.1,425.6 790.7,425.9 791.3,427.0 792.0,427.2 792.7,428.5 793.4,428.8 794.0,427.4 794.7,427.0 795.4,426.5 796.1,426.1 796.7,425.6 797.4,431.1 798.0,438.9 798.7,444.6 799.4,449.1 800.0,447.9 800.6,446.4 801.2,444.1 801.8,441.3 802.4,439.2 803.0,438.0 803.7,437.5 804.4,437.1 805.1,437.7 805.7,437.3 806.4,435.7 807.1,435.3 807.8,434.8 808.4,434.4 809.1,433.4 809.8,433.0 810.4,432.6 811.1,432.9 811.7,432.9 812.3,432.9 812.9,432.9 813.5,434.1 814.1,436.1 814.7,437.3 815.3,438.4 815.9,438.2 816.5,438.0 817.1,438.8 817.7,440.6 818.3,443.7 818.9,445.5 819.4,448.6 820.0,451.7 820.6,454.4 821.2,455.0 821.8,456.7 822.4,458.5 823.0,460.3 823.6,459.0 824.2,462.0 824.8,465.3 825.4,468.3 826.0,474.2 826.6,475.8 827.2,477.9 827.8,478.5 828.4,479.8 829.0,480.4 829.7,475.3 830.4,468.1 831.0,466.9 831.6,465.7 832.2,464.5 832.8,466.3 833.4,468.1 834.0,470.9 834.7,478.0 835.3,485.6 835.9,490.0 836.5,494.0 837.1,494.6 837.7,494.9 838.3,496.6 839.1,499.8 839.8,503.9 840.4,503.9 841.0,505.0 841.6,505.6 842.3,508.7 843.0,511.9 843.6,516.4 844.3,520.9 844.9,526.2 845.5,530.7 846.1,531.3 846.7,529.6 847.3,530.2 847.9,534.7 848.4,539.2 849.0,539.9 849.6,540.2 850.2,539.3 850.8,539.2 851.5,538.7 852.1,543.9 852.7,549.1 853.4,540.9 854.2,535.4 854.9,531.7 855.6,530.1 856.2,526.4 856.9,526.7 857.5,528.0 858.1,529.3 858.7,527.8 859.3,530.0 859.9,532.7 860.4,535.4 861.0,534.5 861.6,535.7 862.2,536.9 862.8,534.2 863.4,530.5 864.0,527.0 864.6,527.3 865.2,527.6 865.8,528.9 866.4,530.2 867.0,531.1 867.6,532.0 868.2,531.3 868.8,530.7 869.4,529.4 870.0,528.7 870.6,530.5 871.2,532.3 871.8,534.4 872.3,534.9 872.9,535.3 873.4,535.8 873.9,537.9 874.5,537.0 875.0,536.1 875.6,535.2 876.1,533.5 876.7,533.0 877.3,532.6 877.8,532.1 878.4,531.7 879.0,533.0 879.6,533.9 880.2,534.8 880.8,535.7 881.4,540.3 882.0,543.0 882.7,547.5 883.3,551.9 883.9,550.2 884.5,547.9 885.1,546.1 885.8,547.9 886.5,550.2 887.2,546.6 888.0,543.0 888.6,542.7 889.2,539.6 889.8,539.3 890.4,541.4 891.0,543.8 891.6,545.9 892.1,546.4 892.6,546.8 893.2,547.8 893.7,548.2 894.3,548.8 894.9,549.9 895.5,550.4 896.0,550.4 896.6,551.0 897.1,551.0 897.7,551.0 898.4,548.4 899.1,545.8 899.7,543.4 900.3,539.9 900.9,537.5 901.5,535.1 902.1,532.0 902.7,529.6 903.3,528.8 903.9,526.4 904.5,524.0 905.2,518.3 905.9,516.5 906.6,519.2 907.2,522.8 907.8,521.0 908.4,519.7 909.0,518.7 909.6,518.4 910.2,518.1 910.8,517.8 911.4,524.5 912.0,528.6 912.6,531.3 913.1,534.0 913.7,531.7 914.3,529.9 914.9,528.1 915.5,525.7 916.1,523.3 916.7,522.7 917.3,521.8 917.9,521.0 918.5,521.8 919.1,522.7 919.7,523.6 920.3,524.5 920.9,519.5 921.5,518.0 922.1,516.5 922.7,514.7 923.3,512.9 923.9,511.1 924.5,507.0 925.2,503.8 925.8,504.4 926.4,504.6 927.0,505.2 927.6,504.6 928.2,504.0 928.8,504.1 929.4,505.9 930.0,507.7 930.6,510.1 931.2,511.3 931.8,513.0 932.4,514.2 933.0,512.4 933.6,508.3 934.2,506.5 934.8,507.1 935.4,507.7 936.0,508.3 936.6,510.0 937.2,510.6 937.8,510.2 938.7,498.5 939.4,493.1 940.1,484.2 940.7,481.5 941.3,478.8 941.9,477.0 942.5,476.7 943.1,474.9 943.8,468.0 944.4,462.6 945.1,455.9 945.8,447.8 946.5,434.5 947.3,430.9 948.0,423.7 948.7,420.2 949.4,416.6 950.0,423.6 950.7,429.0 951.3,428.4 951.9,427.8 952.5,427.5 953.1,428.1 953.7,428.7 954.3,429.7 954.9,426.1 955.5,421.0 956.2,417.0 957.0,411.1 957.6,410.2 958.2,409.3 958.8,409.0 959.4,407.8 960.0,406.6 960.6,399.8 961.3,396.2 962.0,392.6 962.9,379.8 963.5,379.4 964.2,377.6 964.8,376.7 965.4,377.6 966.0,372.2 966.5,366.8 967.1,374.9 967.8,378.5 968.5,372.6 969.2,366.4 969.8,364.2 970.4,363.0 971.0,361.8 971.6,361.7 972.2,364.1 972.8,362.2 973.4,356.8 974.0,351.4 974.7,349.6 975.3,352.8 975.9,354.6 976.5,357.9 977.1,359.7 977.7,360.6 978.3,359.4 978.9,357.0 979.6,352.5 980.3,348.0 980.9,345.6 981.5,342.8 982.1,340.5 982.9,344.1 983.6,351.2 984.2,354.8 984.8,358.4 985.4,360.3 986.0,363.9 986.6,367.0 987.2,362.8 987.8,358.6 988.4,350.6 989.1,353.8 989.7,360.5 990.4,367.7 991.1,374.9 991.7,374.3 992.3,368.8 992.9,368.2 993.5,365.7 994.1,361.9 994.7,359.8 995.3,360.1 995.9,360.4 996.5,358.3 997.1,357.7 997.7,357.1 998.3,356.5 998.9,354.4 999.5,356.7 1000.1,354.6 1000.7,353.7 1001.3,353.1 1001.9,352.5 1002.5,351.9 1003.1,351.3 1003.7,352.1 1004.3,356.0 1004.9,357.5 1005.5,359.0 1006.1,354.5 1006.7,352.7 1007.3,352.3 1007.9,353.2 1008.5,356.6 1009.1,357.5 1009.8,360.3 1010.5,362.6 1011.1,362.1 1011.7,360.3 1012.3,358.5 1012.9,353.5 1013.5,351.4 1014.1,351.3 1014.7,345.1 1015.3,342.1 1015.9,337.1 1016.5,336.2 1017.1,337.0 1017.7,336.1 1018.3,335.6 1018.8,337.5 1019.3,337.0 1019.9,337.2 1020.5,337.5 1021.1,337.3 1021.7,337.6 1022.3,337.6 1022.9,336.7 1023.5,335.8 1024.1,329.7 1024.7,328.2 1025.3,326.7 1025.9,327.3 1026.5,327.9 1027.1,328.2 1027.7,326.5 1028.3,324.7 1028.9,322.9 1029.5,320.2 1030.1,319.6 1030.7,319.0 1031.3,317.8 1031.9,318.9 1032.5,317.7 1033.2,316.8 1033.9,317.4 1034.5,325.9 1035.2,333.8 1035.8,338.1 1036.4,342.9 1037.1,340.2 1037.9,338.4 1038.5,337.3 1039.1,336.6 1039.7,335.1 1040.4,330.2 1041.1,324.2 1041.7,323.3 1042.4,322.4 1043.0,324.5 1043.6,328.6 1044.2,330.7 1044.8,331.6 1045.4,332.9 1046.0,333.8 1046.6,334.4 1047.2,335.0 1047.8,335.1 1048.4,334.2 1049.0,333.3 1049.6,331.8 1050.1,331.5 1050.7,331.2 1051.3,329.9 1051.9,328.7 1052.5,327.5 1053.1,326.3 1053.7,326.0 1054.3,326.7 1054.9,326.4 1055.5,327.6 1056.1,327.8 1056.7,329.0 1057.4,337.0 1058.0,344.7 1058.7,351.8 1059.4,358.1 1060.0,355.7 1060.6,352.3 1061.2,349.9 1061.8,346.7 1062.4,343.7 1063.0,340.4 1063.8,338.6 1064.5,336.8 1065.2,344.4 1065.9,350.0 1066.4,347.9 1067.0,345.2 1067.5,343.1 1068.1,344.0 1068.7,343.7 1069.3,343.4 1069.9,341.9 1070.5,342.2 1071.1,342.6 1071.7,341.3 1072.3,341.1 1072.9,340.8 1073.5,341.1 1074.1,342.9 1074.7,342.5 1075.3,344.3" fill="none" stroke="#008000" stroke-width="3" stroke-linejoin="round"/>
<polyline points="117.2,600.7 120.8,599.1 123.5,602.1 127.1,601.2 130.7,596.7 132.5,598.5 136.1,596.4 139.7,598.5 142.4,598.0 145.1,591.9 148.7,588.7 151.3,590.4 153.1,594.9 155.8,594.0 157.6,597.6 161.2,595.3 163.9,598.5 167.5,599.4 170.2,603.4 173.8,604.5 177.4,605.7 181.9,603.0 187.3,603.4 190.9,603.9 195.4,605.2 199.9,603.9 205.3,603.6 208.9,604.5 214.3,602.7 217.9,603.6 223.3,603.8 229.6,603.0 230.8,602.1 232.2,508.7 234.9,510.4 237.6,512.2 239.1,513.1 241.2,507.8 243.0,514.9 245.2,522.1 247.5,518.5 250.2,517.1 253.8,519.4 256.5,518.2 259.2,514.9 260.0,514.0 261.8,519.4 263.6,524.8 265.4,528.4 267.2,532.9 269.0,525.7 271.7,523.9 273.5,523.0 276.2,523.9 278.0,525.7 279.4,532.0 280.7,535.6 282.5,529.3 284.3,523.9 287.0,521.2 289.7,518.5 292.4,515.8 296.0,513.1 299.6,509.6 301.3,508.7 302.6,512.2 304.0,507.8 305.8,502.4 307.6,497.0 309.4,488.9 311.2,483.5 313.0,480.8 314.8,481.7 316.6,483.5 318.4,481.7 320.2,478.1 322.0,474.5 323.8,465.5 325.1,458.3 326.5,453.8 329.2,453.8 331.9,454.7 335.5,456.0 339.1,456.9 341.8,457.4 343.6,458.0 345.4,461.0 347.2,470.0 349.0,468.2 350.8,470.0 352.6,468.2 354.4,465.5 356.2,461.0 358.0,459.2 359.8,458.3 361.6,463.7 363.4,470.9 365.2,472.7 367.0,474.5 367.9,478.1 369.7,469.1 370.9,479.9 372.4,487.1 374.2,474.5 376.0,469.1 377.8,467.3 379.6,472.7 381.3,481.7 382.8,488.0 384.0,483.5 385.8,479.9 387.6,483.5 389.1,488.0 390.7,479.9 392.5,478.1 394.5,488.0 396.1,481.7 398.1,472.7 399.9,479.9 401.7,478.1 403.3,488.9 404.7,476.3 406.5,470.0 409.2,468.2 410.0,467.6 411.8,465.8 413.6,460.4 415.4,456.9 417.2,455.1 419.0,457.8 420.8,447.9 422.6,446.1 424.4,449.7 426.2,456.9 428.0,446.1 429.8,442.5 431.6,443.4 433.4,447.9 435.2,451.5 437.0,452.4 438.2,440.7 439.7,424.5 441.5,429.9 443.3,426.3 445.1,417.3 446.9,411.0 448.7,411.9 450.4,410.1 452.2,412.8 454.0,409.2 455.8,411.9 457.6,415.5 459.4,417.3 461.2,413.7 463.0,419.1 464.8,426.3 466.1,431.7 467.5,433.5 469.3,424.5 471.1,419.1 472.9,426.3 474.2,431.7 475.6,426.3 477.4,438.0 479.2,429.9 481.0,420.9 482.8,425.4 484.6,419.1 486.4,413.7 488.2,411.9 490.0,412.8 491.8,415.5 493.2,421.8 495.0,415.5 496.8,411.9 498.6,414.6 500.4,417.3 502.6,422.7 504.4,418.2 507.1,417.3 508.9,415.5 510.3,404.7 512.1,399.3 513.9,401.1 515.7,393.9 517.5,396.6 519.3,386.7 520.0,390.7 521.8,382.6 524.5,379.9 526.3,385.3 528.1,387.1 529.3,390.7 531.1,382.6 532.9,379.0 534.7,372.7 536.5,361.9 538.3,352.9 540.1,344.8 541.6,343.9 542.8,347.5 544.6,338.5 546.1,336.7 547.9,343.9 549.7,344.8 551.5,347.5 553.3,354.7 555.1,347.5 556.9,340.3 558.7,342.1 560.4,334.9 561.7,325.1 564.0,326.0 565.8,325.1 567.6,326.9 569.4,326.0 571.2,323.3 573.0,326.0 574.8,328.7 576.1,351.1 577.2,334.0 579.3,334.9 581.1,341.2 582.9,343.0 584.4,351.1 585.6,357.4 587.4,352.9 588.3,363.7 589.8,353.8 591.9,354.7 593.7,352.9 595.5,347.5 597.7,345.7 599.1,351.1 600.9,357.4 602.3,358.3 603.6,349.3 605.9,348.4 608.1,349.3 609.9,348.4 612.6,347.5 614.4,343.9 616.2,338.5 618.9,337.6 620.7,339.4 622.5,343.0 623.9,339.4 626.1,345.7 627.9,347.5 629.7,348.4 631.5,345.7 633.3,343.0 635.1,342.1 636.9,341.2 638.7,343.0 640.4,351.1 643.1,348.4 645.8,351.1 648.0,349.3 650.3,345.7 652.1,343.9 654.8,343.9 657.0,343.9 658.8,338.5 661.1,340.3 662.9,345.7 664.7,352.9 666.5,350.2 669.2,351.1 670.0,347.2 671.8,350.8 673.6,361.6 675.4,372.4 677.2,377.8 679.9,376.0 681.7,375.1 683.5,378.7 685.3,374.2 687.1,368.8 688.9,366.1 691.2,363.4 692.5,366.1 693.9,376.0 696.1,383.1 697.9,376.9 699.7,375.1 702.4,374.2 704.2,376.9 706.0,383.1 707.8,388.5 709.6,392.1 711.7,393.0 713.1,388.5 714.9,393.0 716.7,397.5 718.5,402.0 721.2,401.1 723.9,400.2 725.4,406.5 726.6,415.5 727.9,420.9 729.7,415.5 731.5,414.6 733.3,418.2 735.1,419.1 736.9,422.7 738.3,431.7 740.1,438.0 741.9,444.3 743.3,455.1 745.1,464.0 746.4,469.4 747.7,474.8 749.1,465.8 750.9,460.4 753.1,458.7 754.9,453.3 756.7,447.9 758.4,442.5 760.2,435.3 762.0,428.1 763.5,424.5 764.7,435.3 766.2,447.9 768.5,447.0 770.3,442.5 772.1,437.1 774.3,433.5 776.1,430.8 777.9,427.2 779.3,425.4 780.6,429.9 782.4,438.0 784.2,433.5 786.9,430.8 789.6,429.0 791.3,429.9 794.0,430.8 796.7,429.0 798.0,438.9 799.4,447.9 801.2,443.4 803.0,439.8 805.7,438.0 808.4,436.2 811.1,434.4 812.9,434.4 814.7,438.0 817.1,437.1 818.9,442.5 820.0,448.7 821.8,456.7 823.6,462.1 825.4,471.1 827.2,477.4 829.0,479.2 830.4,471.1 832.2,467.5 834.0,472.9 835.3,487.3 836.5,495.4 838.3,497.2 839.8,503.5 841.6,508.0 843.0,514.3 844.3,523.3 845.5,532.2 847.3,534.0 848.4,543.0 850.2,543.9 851.5,541.2 852.7,548.4 854.2,541.2 855.6,535.8 856.9,528.7 858.7,524.2 860.4,532.2 862.2,535.8 864.0,527.8 865.8,528.7 867.6,531.3 870.0,528.7 871.8,534.0 873.9,535.8 876.1,532.2 878.4,530.4 880.8,534.0 882.0,539.4 883.3,548.4 885.1,543.0 886.5,546.6 888.0,539.4 889.8,538.5 891.6,544.8 893.7,546.6 895.5,548.4 897.7,548.4 899.1,543.0 900.9,535.8 902.7,528.7 904.5,521.5 905.9,517.9 907.2,523.3 909.0,517.9 910.8,517.0 912.0,525.1 913.1,530.4 914.9,525.1 916.7,517.9 918.5,515.2 920.3,517.9 922.1,513.4 923.9,508.0 925.2,501.7 927.0,503.5 928.8,501.7 930.6,507.1 932.4,510.7 934.2,505.3 936.0,507.1 937.8,508.9 938.7,499.9 940.1,489.1 941.3,483.7 943.1,478.3 944.4,467.5 945.8,451.3 946.5,437.4 948.0,430.2 949.4,423.0 950.7,433.8 952.5,432.0 954.3,433.8 955.5,426.6 957.0,418.5 958.8,415.8 960.6,412.2 962.0,405.1 962.9,387.1 964.2,383.5 965.4,385.3 966.5,374.5 967.8,381.7 969.2,369.1 971.0,365.5 972.8,372.7 974.0,361.9 975.3,358.3 977.1,363.7 978.9,360.1 980.3,351.1 982.1,343.9 983.6,345.7 984.8,352.9 986.6,363.7 988.4,351.1 989.7,356.5 991.1,370.9 992.9,369.1 994.7,365.5 996.5,366.4 998.3,364.6 1000.1,358.3 1001.9,356.5 1003.7,354.7 1005.5,359.2 1007.3,353.8 1009.1,356.5 1010.5,361.0 1012.3,355.6 1014.1,349.3 1015.9,340.3 1017.7,337.6 1019.9,335.8 1021.7,336.7 1023.5,334.0 1025.3,329.6 1027.1,331.3 1028.9,326.0 1030.7,324.2 1032.5,320.6 1033.9,318.8 1035.2,333.1 1036.4,341.2 1037.9,337.6 1039.7,333.1 1041.1,323.3 1042.4,321.5 1044.2,327.8 1046.0,330.4 1047.8,332.2 1049.6,329.6 1051.3,328.7 1053.1,325.1 1054.9,324.2 1056.7,327.8 1058.0,343.9 1059.4,358.3 1061.2,351.1 1063.0,342.1 1064.5,338.5 1065.9,350.2 1067.5,343.9 1069.3,343.0 1071.1,343.9 1072.9,342.1 1074.7,345.7 1075.3,347.5" fill="none" stroke="#000" stroke-width="2.2" stroke-linejoin="round"/>
<rect x="113.4" y="13.9" width="966.6" height="629.6" fill="none" stroke="#000" stroke-width="1.7"/>
<path d="M117.00,643.5v12.5M127.44,643.5v12.5M137.88,643.5v12.5M148.32,643.5v12.5M158.76,643.5v12.5M169.20,643.5v12.5M179.64,643.5v12.5M190.08,643.5v12.5M200.52,643.5v12.5M210.96,643.5v12.5M221.40,643.5v12.5M231.84,643.5v12.5M242.28,643.5v12.5M252.72,643.5v12.5M263.16,643.5v12.5M273.60,643.5v12.5M284.04,643.5v12.5M294.48,643.5v12.5M304.92,643.5v12.5M315.36,643.5v12.5M325.80,643.5v12.5M336.24,643.5v12.5M346.68,643.5v12.5M357.12,643.5v12.5M367.56,643.5v12.5M378.00,643.5v12.5M388.44,643.5v12.5M398.88,643.5v12.5M409.32,643.5v12.5M419.76,643.5v12.5M430.20,643.5v12.5M440.64,643.5v12.5M451.08,643.5v12.5M461.52,643.5v12.5M471.96,643.5v12.5M482.40,643.5v12.5M492.84,643.5v12.5M503.28,643.5v12.5M513.72,643.5v12.5M524.16,643.5v12.5M534.60,643.5v12.5M545.04,643.5v12.5M555.48,643.5v12.5M565.92,643.5v12.5M576.36,643.5v12.5M586.80,643.5v12.5M597.24,643.5v12.5M607.68,643.5v12.5M618.12,643.5v12.5M628.56,643.5v12.5M639.00,643.5v12.5M649.44,643.5v12.5M659.88,643.5v12.5M670.32,643.5v12.5M680.76,643.5v12.5M691.20,643.5v12.5M701.64,643.5v12.5M712.08,643.5v12.5M722.52,643.5v12.5M732.96,643.5v12.5M743.40,643.5v12.5M753.84,643.5v12.5M764.28,643.5v12.5M774.72,643.5v12.5M785.16,643.5v12.5M795.60,643.5v12.5M806.04,643.5v12.5M816.48,643.5v12.5M826.92,643.5v12.5M837.36,643.5v12.5M847.80,643.5v12.5M858.24,643.5v12.5M868.68,643.5v12.5M879.12,643.5v12.5M889.56,643.5v12.5M900.00,643.5v12.5M910.44,643.5v12.5M920.88,643.5v12.5M931.32,643.5v12.5M941.76,643.5v12.5M952.20,643.5v12.5M962.64,643.5v12.5M973.08,643.5v12.5M983.52,643.5v12.5M993.96,643.5v12.5M1004.40,643.5v12.5M1014.84,643.5v12.5M1025.28,643.5v12.5M1035.72,643.5v12.5M1046.16,643.5v12.5M1056.60,643.5v12.5M1067.04,643.5v12.5" stroke="#000" stroke-width="1.7" fill="none"/>
<path d="M113.4,308h-12.2M113.4,375h-12.2M113.4,442h-12.2M113.4,509h-12.2M113.4,576h-12.2M113.4,643h-12.2M1080.0,14.8h11.5M1080.0,81.8h11.5M1080.0,148.9h11.5M1080.0,216.1h11.5M1080.0,282.9h11.5M1080.0,349.9h11.5" stroke="#000" stroke-width="1.5" fill="none"/>
<g font-family="'Liberation Sans', Arial, sans-serif" font-size="26.5" fill="#000">
<text transform="translate(91.8,316.3) scale(1,1.1)" text-anchor="end">7.0</text>
<text transform="translate(91.8,383.3) scale(1,1.1)" text-anchor="end">6.8</text>
<text transform="translate(91.8,450.3) scale(1,1.1)" text-anchor="end">6.6</text>
<text transform="translate(91.8,517.3) scale(1,1.1)" text-anchor="end">6.4</text>
<text transform="translate(91.8,584.3) scale(1,1.1)" text-anchor="end">6.2</text>
<text transform="translate(91.8,651.3) scale(1,1.1)" text-anchor="end">6.0</text>
<text transform="translate(1099,23.0) scale(0.968,1.1)">.15</text>
<text transform="translate(1099,90.0) scale(0.968,1.1)">.10</text>
<text transform="translate(1099,157.1) scale(0.968,1.1)">.05</text>
<text transform="translate(1099,224.3) scale(0.968,1.1)">.00</text>
<text transform="translate(1099,291.1) scale(0.968,1.1)">-.05</text>
<text transform="translate(1099,358.1) scale(0.968,1.1)">-.10</text>
<text transform="translate(128.40,763.6) rotate(-90) scale(1.047,1.05)">150105</text>
<text transform="translate(159.72,763.6) rotate(-90) scale(1.047,1.05)">150312</text>
<text transform="translate(191.04,763.6) rotate(-90) scale(1.047,1.05)">150525</text>
<text transform="translate(222.36,763.6) rotate(-90) scale(1.047,1.05)">150715</text>
<text transform="translate(253.68,763.6) rotate(-90) scale(1.047,1.05)">150831</text>
<text transform="translate(285.00,763.6) rotate(-90) scale(1.047,1.05)">151022</text>
<text transform="translate(316.32,763.6) rotate(-90) scale(1.047,1.05)">151209</text>
<text transform="translate(347.64,763.6) rotate(-90) scale(1.047,1.05)">160125</text>
<text transform="translate(378.96,763.6) rotate(-90) scale(1.047,1.05)">160314</text>
<text transform="translate(410.28,763.6) rotate(-90) scale(1.047,1.05)">160426</text>
<text transform="translate(441.60,763.6) rotate(-90) scale(1.047,1.05)">160615</text>
<text transform="translate(472.92,763.6) rotate(-90) scale(1.047,1.05)">160727</text>
<text transform="translate(504.24,763.6) rotate(-90) scale(1.047,1.05)">160907</text>
<text transform="translate(535.56,763.6) rotate(-90) scale(1.047,1.05)">161028</text>
<text transform="translate(566.88,763.6) rotate(-90) scale(1.047,1.05)">161209</text>
<text transform="translate(598.20,763.6) rotate(-90) scale(1.047,1.05)">170123</text>
<text transform="translate(629.52,763.6) rotate(-90) scale(1.047,1.05)">170313</text>
<text transform="translate(660.84,763.6) rotate(-90) scale(1.047,1.05)">170426</text>
<text transform="translate(692.16,763.6) rotate(-90) scale(1.047,1.05)">170612</text>
<text transform="translate(723.48,763.6) rotate(-90) scale(1.047,1.05)">170724</text>
<text transform="translate(754.80,763.6) rotate(-90) scale(1.047,1.05)">170905</text>
<text transform="translate(786.12,763.6) rotate(-90) scale(1.047,1.05)">171024</text>
<text transform="translate(817.44,763.6) rotate(-90) scale(1.047,1.05)">171205</text>
<text transform="translate(848.76,763.6) rotate(-90) scale(1.047,1.05)">180118</text>
<text transform="translate(880.08,763.6) rotate(-90) scale(1.047,1.05)">180308</text>
<text transform="translate(911.40,763.6) rotate(-90) scale(1.047,1.05)">180424</text>
<text transform="translate(942.72,763.6) rotate(-90) scale(1.047,1.05)">180607</text>
<text transform="translate(974.04,763.6) rotate(-90) scale(1.047,1.05)">180720</text>
<text transform="translate(1005.36,763.6) rotate(-90) scale(1.047,1.05)">180831</text>
<text transform="translate(1036.68,763.6) rotate(-90) scale(1.047,1.05)">181022</text>
<text transform="translate(1068.00,763.6) rotate(-90) scale(1.047,1.05)">181203</text>
</g>
<g font-family="'Liberation Serif', 'Times New Roman', serif" font-size="31.5" fill="#000" style="font-kerning:none">
<text transform="translate(25,0) rotate(-90) scale(1,0.965)"><tspan x="-597.54" textLength="141.29" lengthAdjust="spacingAndGlyphs">USD/CNY</tspan><tspan x="-455.71" textLength="7.88" lengthAdjust="spacingAndGlyphs">,</tspan> <tspan x="-439.24" textLength="141.19" lengthAdjust="spacingAndGlyphs">USD/CNH</tspan><tspan x="-297.61" textLength="7.88" lengthAdjust="spacingAndGlyphs">,</tspan> <tspan x="-281.86" textLength="115.00" lengthAdjust="spacingAndGlyphs">Midpoint</tspan> <tspan x="-160.02" textLength="47.11" lengthAdjust="spacingAndGlyphs">rate</tspan></text>
<text transform="translate(1174,0) rotate(90) scale(1,0.965)"><tspan x="139.63" textLength="85.01" lengthAdjust="spacingAndGlyphs">Spread</tspan><tspan x="225.77" textLength="16.76" lengthAdjust="spacingAndGlyphs">=</tspan><tspan x="244.48" textLength="11.34" lengthAdjust="spacingAndGlyphs">(</tspan><tspan x="258.39" textLength="134.39" lengthAdjust="spacingAndGlyphs">USD/CNH</tspan><tspan x="394.65" textLength="10.69" lengthAdjust="spacingAndGlyphs">-</tspan><tspan x="406.89" textLength="135.78" lengthAdjust="spacingAndGlyphs">USD/CNY</tspan><tspan x="544.53" textLength="11.34" lengthAdjust="spacingAndGlyphs">)</tspan></text>
<rect x="332.3" y="797.6" width="528.2" height="90.4" fill="#fff" stroke="#000" stroke-width="1.6"/>
<rect x="349" y="807.7" width="69" height="25.4" fill="#96bdfd" stroke="#111" stroke-width="1.5"/>
<line x1="348" y1="864.3" x2="419" y2="864.3" stroke="#008000" stroke-width="2.4"/>
<line x1="590" y1="824.5" x2="662" y2="824.5" stroke="#ff0000" stroke-width="2.4"/>
<line x1="590" y1="864.5" x2="662" y2="864.5" stroke="#000" stroke-width="1.8"/>
<text transform="translate(432.5,836.2) scale(1.02,1.06)" font-size="31.4">Spread</text>
<text transform="translate(432.5,875.6) scale(1,1.06)" font-size="31.4">USD/CNH</text>
<text transform="translate(674.5,836.2) scale(1,1.06)" font-size="31.4">USD/CNY</text>
<text transform="translate(674.5,875.6) scale(1,1.06)" font-size="31.4">Midpoint rtae</text>
</g>
</svg>
</body></html>
